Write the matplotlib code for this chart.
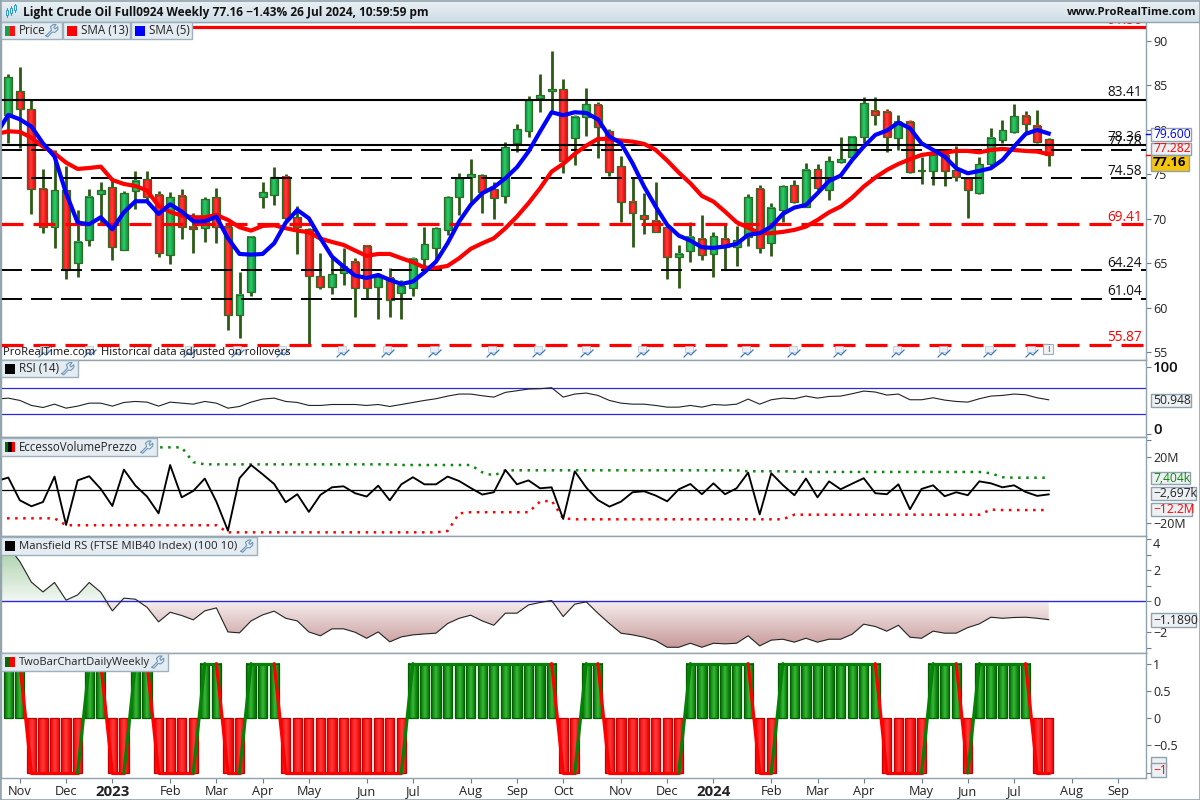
import numpy as np
import matplotlib
matplotlib.use("Agg")
import matplotlib.pyplot as plt
from matplotlib.colors import LinearSegmentedColormap as LSC
from matplotlib.patches import Rectangle

plt.rcParams['font.family'] = ['Open Sans', 'DejaVu Sans']
plt.rcParams['lines.scale_dashes'] = False
plt.rcParams['axes.unicode_minus'] = True

# ---------- data (weekly bars, oldest first) ----------
highs = [86.29,87.05,83.37,75.58,77.76,75.99,71.01,73.34,74.20,74.57,73.15,75.36,75.36,73.19,73.00,73.34,70.64,72.44,73.45,69.52,64.01,68.10,74.12,75.81,75.06,71.47,68.96,66.15,65.77,66.71,65.59,67.01,63.90,64.46,63.15,
         65.70,69.07,69.14,72.59,75.14,76.71,75.06,74.20,78.62,80.64,83.83,86.30,88.88,85.70,81.69,84.69,83.11,80.08,77.05,74.57,72.96,74.13,69.14,67.05,69.63,70.42,68.51,69.33,69.26,72.81,73.83,71.77,73.83,74.39,
         76.26,76.18,77.08,79.25,79.33,83.67,83.67,82.36,81.65,81.09,76.93,77.76,77.38,78.24,74.76,76.97,80.19,81.09,82.88,82.10,82.25,79.07]
body_top = [85.92,84.35,82.33,73.41,73.23,73.23,67.46,72.51,73.23,73.56,72.89,74.31,74.46,72.74,72.44,72.63,69.14,72.21,72.44,69.07,61.50,67.95,73.00,74.76,74.76,70.19,68.84,63.56,63.78,64.65,65.21,67.01,63.53,63.41,62.48,
            65.55,67.16,68.96,72.44,74.57,75.02,74.91,73.34,78.06,80.08,83.38,83.90,84.57,84.57,81.43,82.89,82.78,79.85,75.92,71.95,70.42,69.82,69.14,66.04,68.02,67.80,68.06,67.80,67.65,72.44,73.34,71.28,73.68,73.79,
            75.47,75.58,76.48,76.71,79.22,82.99,82.10,81.99,80.94,80.86,75.47,77.19,77.19,75.47,74.57,76.14,79.07,79.96,81.54,81.54,80.49,78.95]
body_bot = [81.73,82.33,73.41,69.14,69.14,64.27,65.02,67.61,72.85,66.82,66.52,73.11,72.51,66.15,65.96,69.07,68.84,68.96,69.14,59.18,59.18,61.77,72.44,72.74,70.08,69.07,63.56,62.33,62.33,63.90,62.21,62.21,62.33,60.91,61.65,
            62.22,65.55,66.78,68.77,72.52,74.69,73.08,72.33,72.63,78.58,79.93,83.64,84.35,76.56,79.07,81.50,80.30,75.32,71.95,70.64,70.04,68.58,65.77,65.70,66.37,65.92,66.04,66.90,66.90,68.02,66.71,67.27,71.02,71.95,
            71.31,73.45,73.23,76.44,76.93,79.18,81.65,79.18,79.07,75.24,75.36,75.36,75.36,74.76,73.23,72.96,76.14,78.84,79.81,80.64,78.62,77.16]
lows = [78.58,78.02,70.60,68.47,66.79,63.30,63.45,67.01,69.52,65.43,66.52,71.17,72.14,65.77,64.99,67.79,66.22,67.46,67.27,57.57,56.67,61.39,71.28,71.62,69.89,66.11,55.81,62.18,61.62,62.63,59.03,61.09,58.81,59.03,58.81,
        61.39,64.28,65.40,68.21,70.46,71.77,70.72,70.04,71.84,77.57,79.26,82.06,82.06,75.21,76.11,79.33,76.90,74.87,69.71,66.90,68.36,68.51,63.30,62.29,65.21,65.40,63.53,64.35,64.73,67.01,66.22,65.89,69.71,71.77,
        71.31,73.26,72.14,76.33,76.63,78.58,80.56,77.57,77.76,75.13,73.97,73.86,73.75,74.31,70.15,72.85,75.88,78.58,79.70,79.63,78.50,75.99]
candle_up = list("GRRRGRGGGRGGRRGRRGRRGGGGRRRRGGRRGRG"
                 "GGGGGGRRGGGGGRGGRRRRRRRGGRGRGGRGGR"
                 "GRGGGGRRGRGGRRRGGGGRRR")

sma5 = [79.63,81.69,81.20,80.38,78.50,77.01,72.89,69.59,69.41,70.19,68.84,70.75,71.99,71.99,70.56,71.65,70.83,69.74,69.74,70.26,67.83,66.07,65.99,66.07,67.27,69.59,71.01,70.08,67.83,65.77,64.65,63.64,63.37,63.71,63.15,62.70,
        62.97,64.01,65.21,67.27,69.71,71.58,72.89,73.56,74.57,75.81,77.57,79.82,81.99,81.65,81.99,81.91,81.20,79.26,78.51,76.26,73.64,71.39,69.33,68.13,67.57,66.82,66.75,66.90,67.20,68.21,68.40,69.14,70.57,71.28,
        71.57,72.89,74.27,74.87,76.63,78.13,79.44,79.93,80.83,80.19,78.50,77.76,77.01,75.70,75.13,75.40,75.70,76.63,78.13,79.55,80.00,79.60]
sma13 = [79.55,79.85,79.78,79.14,78.13,77.38,76.33,75.62,75.73,75.88,74.38,73.93,73.71,73.19,71.47,70.79,70.38,70.19,70.19,70.45,69.89,69.07,68.69,69.22,69.29,68.96,68.69,68.51,67.79,67.42,67.08,66.45,65.85,66.07,66.07,65.59,
         65.14,64.54,64.50,64.73,65.59,66.64,67.27,67.83,68.96,70.27,71.77,73.45,75.32,76.19,77.31,78.24,78.99,78.99,78.81,78.69,78.43,77.76,76.56,75.21,74.01,72.59,71.95,70.83,69.63,69.03,68.40,68.40,68.55,68.77,
         69.14,69.89,70.75,71.39,72.40,73.64,74.65,75.51,76.18,76.71,77.19,77.38,77.45,77.64,77.64,77.49,77.75,77.87,77.75,77.64,77.57,77.28]

solid_levels = [83.41, 78.36]
black_dash_levels = [77.78, 74.58, 64.24, 61.04]
red_dash_levels = [69.41, 55.87]
red_solid_level = 91.56

rsi = [52.0,53.4,50.0,42.6,39.6,44.5,38.6,41.6,46.0,46.0,41.6,47.0,48.5,47.5,41.6,47.5,46.0,44.5,48.5,46.0,38.6,41.1,47.5,52.0,53.4,48.5,47.0,42.6,42.6,44.0,44.0,44.0,42.6,44.0,41.1,44.0,
       47.0,50.0,52.5,56.4,59.4,59.4,56.9,54.9,61.9,64.3,66.8,67.3,68.8,54.9,59.4,60.9,57.4,
       50.0,46.0,44.5,44.5,42.6,40.1,40.1,42.6,40.1,44.0,43.0,44.5,52.0,44.5,51.0,53.4,52.5,56.4,53.4,55.9,56.4,59.9,63.8,62.4,57.9,59.4,51.0,51.0,53.9,50.5,48.5,47.5,52.5,56.4,57.4,59.4,58.4,53.9,50.948]
rsi_bands = [68.5, 29.7]

evp = [5.4,7.5,-6.3,-9.9,-7.3,8.1,-21.2,5.8,8.3,0.6,-9.7,12.3,2.6,-4.0,-14.2,15.1,-4.5,-0.6,6.9,-7.1,-24.7,7.1,15.1,9.5,3.6,-7.5,-2.6,-13.3,-3.0,1.6,2.2,-2.0,-4.0,2.6,-6.3,3.4,
       7.7,3.4,3.4,8.1,5.4,1.2,-2.8,-1.4,12.1,3.4,5.8,1.0,1.6,-17.6,11.3,1.4,-6.1,
       -10.1,-7.1,-1.4,-0.8,-3.4,-6.9,0.4,3.6,-2.6,4.0,-2.6,1.0,10.5,-14.8,10.1,3.0,-3.2,6.9,-4.5,5.2,0.4,3.8,7.1,-2.0,-2.6,3.4,-11.7,0.6,2.8,-3.8,-1.4,-3.2,5.2,4.0,1.6,2.8,-1.2,-3.6,-2.697]
evp_upper = [25.8]*17 + [16.8] + [15.5]*17 + [15.1]*7 + [10.7,8.7] + [11.9]*21 + [11.3]*4 + [11.1] + [10.9]*16 + [10.1,7.7,7.404,7.404,7.404,7.404]
evp_lower = [-17.2]*6 + [-21.4]*14 + [-25.7]*19 + [-24.9,-14.2] + [-13.5]*6 + [-7.1,-6.5,-17.2] + [-17.8]*19 + [-15.0]*17 + [-11.9] + [-12.2]*5

mansfield = [3.53,3.53,2.56,1.23,0.60,1.21,0.07,0.41,1.21,0.58,-0.62,0.20,0.13,-0.39,-1.33,-0.71,-0.92,-1.20,-0.62,-0.43,-1.98,-2.04,-1.27,-0.88,-0.64,-1.10,-1.27,-1.98,-2.23,-1.78,-1.78,-2.00,-2.39,-1.98,-2.62,-2.30,
             -2.17,-2.11,-2.06,-1.44,-1.10,-0.90,-1.27,-1.55,-0.77,-0.77,-0.24,-0.08,0.05,-0.99,-0.19,-0.04,-0.77,
             -1.44,-2.06,-2.17,-2.32,-2.54,-2.97,-2.97,-2.71,-2.97,-2.71,-2.75,-2.71,-2.23,-2.88,-2.51,-2.45,-2.64,-2.39,-2.64,-2.45,-2.45,-2.13,-1.48,-1.63,-1.93,-1.55,-2.32,-2.39,-1.93,-2.06,-2.06,-1.70,-1.46,-1.03,-1.10,-1.05,-1.03,-1.10,-1.189]

twobar = [1,1,-1,-1,-1,-1,-1,1,1,-1,-1,1,1,-1,-1,-1,-1,1,1,-1,-1,1,1,1,
          -1,-1,-1,-1,-1,-1,-1,-1,-1,-1,-1,
          1,1,1,1,1,1,1,1,1,1,1,1,1,-1,-1,1,1,
          -1,-1,-1,-1,-1,-1,-1,1,1,1,1,1,1,-1,-1,
          1,1,1,1,1,1,1,1,1,-1,-1,-1,-1,1,1,1,-1,1,1,1,1,1,-1,-1]

tick_pos = [1,5,9,14,18,22,26,31,35,40,44,48,53,57,61,66,70,74,79,83,87,92,96]
tick_text = ['Nov','Dec','2023','Feb','Mar','Apr','May','Jun','Jul','Aug','Sep','Oct',
             'Nov','Dec','2024','Feb','Mar','Apr','May','Jun','Jul','Aug','Sep']

n = len(highs)
idx = np.arange(n)
idx_pre = np.arange(-1, n)

# ---------- layout ----------
W, H = 1200, 800
LEFT, RIGHT = 1, 1146
fig = plt.figure(figsize=(12, 8), dpi=100, facecolor='white')
GRAY = '#93a3ad'
XLIM = ((LEFT - 8.3) / 11.56, (RIGHT - 8.3) / 11.56)

def panel(y0, y1, ylim):
    ax = fig.add_axes([LEFT / W, 1 - y1 / H, (RIGHT - LEFT) / W, (y1 - y0) / H])
    ax.set_facecolor('white')
    ax.set_xlim(*XLIM)
    ax.set_ylim(*ylim)
    for s in ax.spines.values():
        s.set_color(GRAY)
        s.set_linewidth(1.0)
    ax.yaxis.tick_right()
    ax.tick_params(axis='y', colors='#222222', labelsize=9.0, length=3.5, width=0.8, color='#6f7f88', pad=1.5)
    ax.set_xticks([])
    return ax

ax_p = panel(22, 359.5, (54.21, 92.13))
ax_r = panel(359.5, 437.3, (-4.4, 110.4))
ax_e = panel(437.3, 536.3, (-28.1, 31.9))
ax_m = panel(536.3, 652.7, (-3.32, 4.19))
ax_t = panel(652.7, 777.7, (-1.09, 1.2))

def hgrad(ax, x0, x1, y0, y1, cmap, z):
    g = np.array([[0, 0.5, 1, 0.5, 0]])
    ax.imshow(g, extent=[x0, x1, y0, y1], aspect='auto', cmap=cmap, vmin=0, vmax=1,
              interpolation='bilinear', zorder=z)

CM_G = LSC.from_list('g', ['#149a48', '#2ccc66'])
CM_R = LSC.from_list('r', ['#ee1010', '#ff3b3b'])
CM_TG = LSC.from_list('tg', ['#067a06', '#38b838'])
CM_TR = LSC.from_list('tr', ['#f40808', '#ff3c3c'])
WICK = '#2b5a14'

# ---------- price panel ----------
ax_p.vlines(idx, lows, highs, color=WICK, lw=2.0, zorder=2)
for i in idx:
    top, bot = body_top[i], body_bot[i]
    hgrad(ax_p, i - 0.34, i + 0.34, bot, top, CM_G if candle_up[i] == 'G' else CM_R, 3)
    ax_p.add_patch(Rectangle((i - 0.34, bot), 0.68, top - bot, fill=False, ec='#2f6b22', lw=0.9, zorder=4))
ax_p.set_xlim(*XLIM)
ax_p.set_ylim(54.21, 92.13)

for lv in solid_levels:
    ax_p.axhline(lv, color='black', lw=1.5, zorder=5)
for lv in black_dash_levels:
    ax_p.axhline(lv, color='black', lw=1.4, ls=(0, (15.12, 6.48)), dash_capstyle='butt', zorder=5)
for lv in red_dash_levels:
    ax_p.axhline(lv, color='#ff0000', lw=2.3, ls=(0, (15.84, 7.2)), dash_capstyle='butt', zorder=5)
ax_p.axhline(red_solid_level, color='#ff0000', lw=2.3, zorder=5)

ax_p.plot(idx_pre, sma13, color='#ff0000', lw=3.0, zorder=6, solid_joinstyle='round')
ax_p.plot(idx_pre, sma5, color='#0000ff', lw=3.0, zorder=7, solid_joinstyle='round')

label_x = XLIM[1] - 0.35
for val, col in [(83.41, '#111111'), (78.36, '#111111'), (77.78, '#111111'), (74.58, '#111111'),
                 (69.41, '#ff0000'), (64.24, '#111111'), (61.04, '#111111'), (55.87, '#ff0000'), (91.56, '#ff0000')]:
    ax_p.text(label_x, val + 0.37, f'{val:.2f}', ha='right', va='baseline', color=col, fontsize=9.8,
              zorder=8, clip_on=True)
ax_p.set_yticks([55, 60, 65, 70, 75, 80, 85, 90])

# ---------- RSI ----------
for b in rsi_bands:
    ax_r.axhline(b, color='#2a2ad8', lw=0.9, zorder=1)
ax_r.plot(idx_pre, rsi, color='#222222', lw=0.8, zorder=2)
ax_r.set_yticks([0, 100])
ax_r.set_yticklabels(['', ''])

# ---------- EccessoVolumePrezzo ----------
ax_e.plot(idx_pre, evp_upper, color='#0a8a0a', lw=1.8, ls=(0, (1.8, 4.0)), dash_capstyle='butt', zorder=2)
ax_e.plot(idx_pre, evp_lower, color='#ff0000', lw=1.8, ls=(0, (1.8, 4.0)), dash_capstyle='butt', zorder=2)
ax_e.plot([XLIM[0], n - 1], [0, 0], color='black', lw=0.9, zorder=2)
ax_e.plot(idx_pre, evp, color='black', lw=1.35, zorder=3)
ax_e.set_yticks([-20, 20, 30])
ax_e.set_yticklabels(['\u221220M', '20M', ''])

# ---------- Mansfield ----------
mx = idx_pre
mv = np.array(mansfield)
for arr, colors, (g0, g1) in [(np.maximum(mv, 0), ['#f2f7f2', '#a6cfa6'], (0, 3.6)),
                              (np.minimum(mv, 0), ['#f6eded', '#c69797'], (0, -3.05))]:
    poly = ax_m.fill_between(mx, 0, arr, color='none', lw=0)
    grad = np.linspace(1, 0, 64).reshape(-1, 1)
    cm = LSC.from_list('m', colors)
    im = ax_m.imshow(grad, extent=[mx[0], mx[-1], min(g0, g1), max(g0, g1)], aspect='auto', cmap=cm,
                     origin='upper' if g1 > 0 else 'lower', zorder=1, interpolation='bilinear')
    im.set_clip_path(poly.get_paths()[0], transform=ax_m.transData)
ax_m.set_xlim(*XLIM)
ax_m.set_ylim(-3.32, 4.19)
ax_m.axhline(0, color='#2a2ad8', lw=1.0, zorder=2)
ax_m.plot(mx, mv, color='#222222', lw=0.8, zorder=3)
ax_m.set_yticks([-3, -2, 0, 1, 2, 3, 4])
ax_m.set_yticklabels(['', '\u22122', '0', '', '2', '', ''])

# ---------- TwoBar ----------
for i, v in zip(idx, twobar):
    cm = CM_TG if v > 0 else CM_TR
    hgrad(ax_t, i - 0.4, i + 0.4, min(0, v), max(0, v), cm, 1)
    ax_t.add_patch(Rectangle((i - 0.4, min(0, v)), 0.8, 1, fill=False,
                             ec='#055c05' if v > 0 else '#c40000', lw=0.9, zorder=2))
ax_t.set_xlim(*XLIM)
ax_t.set_ylim(-1.09, 1.2)
for i in range(n - 1):
    ax_t.plot([i, i + 1], [twobar[i], twobar[i + 1]], color='#078007' if twobar[i + 1] > 0 else '#ff0000',
              lw=2.3, zorder=3, solid_capstyle='round')
ax_t.set_yticks([-1, -0.5, 0, 0.5, 1])
ax_t.set_yticklabels(['', '\u22120.5', '0', '0.5', '1'])
ax_t.set_xticks(tick_pos)
ax_t.set_xticklabels(tick_text, fontsize=9.2, color='#222222')
ax_t.tick_params(axis='x', length=3.5, width=0.8, color='#6f7f88', pad=1.5)
for lbl in ax_t.get_xticklabels():
    if lbl.get_text() in ('2023', '2024'):
        lbl.set_fontweight('bold')
        lbl.set_fontsize(10.8)

# ---------- chrome overlay, in pixel coordinates ----------
ov = fig.add_axes([0, 0, 1, 1], zorder=20)
ov.set_xlim(0, W)
ov.set_ylim(H, 0)
ov.axis('off')

head = ov.imshow(np.linspace(0, 1, 22).reshape(-1, 1), extent=[0, W, 22, 0], aspect='auto',
                 cmap=LSC.from_list('h', ['#eaf1f5', '#cfdee6']), zorder=1)
ov.set_xlim(0, W)
ov.set_ylim(H, 0)
ov.plot([0, W], [21.5, 21.5], color=GRAY, lw=1, zorder=2)
ov.plot([0, W, W, 0, 0], [0.5, 0.5, 799.5, 799.5, 0.5], color=GRAY, lw=1.2, zorder=2)
ov.plot([0.5, 0.5], [0, 800], color=GRAY, lw=1.2, zorder=2)
for xc, y0, y1, yt, yb, c in [(7, 8, 17, 10, 15, '#2a9bd0'), (11, 6, 15, 8, 13, '#2a9bd0'), (15, 4, 12, 5, 10, '#2a9bd0')]:
    ov.plot([xc, xc], [y0, y1], color=c, lw=0.7, zorder=3)
    ov.add_patch(Rectangle((xc - 1.3, yt), 2.6, yb - yt, fc='white', ec=c, lw=0.7, zorder=4))
ov.text(23, 12.2, 'Light Crude Oil Full0924 Weekly 77.16 \u22121.43% 26 Jul 2024, 10:59:59 pm',
        fontsize=8.6, fontweight='bold', va='center', ha='left', color='#111111', zorder=5)
ov.text(1196, 12.2, 'www.ProRealTime.com', fontsize=8.1, fontweight='bold', va='center', ha='right',
        color='#111111', zorder=5)

WR = np.array([[0, 10], [5, 5], [4, 2], [6.5, 0], [9, 0], [7, 2.5], [8, 4], [10.5, 2], [10.5, 4.5], [8, 7], [5.5, 6.8], [1.5, 11], [0, 10]], float) * 1.12

def wrench(x, y):
    ov.plot(x + WR[:, 0], y + WR[:, 1], color='#6d97b8', lw=0.8, zorder=8)

def legend_box(x0, x1, y0, y1, text, swatch, fs=8.35, wr=True):
    ov.add_patch(Rectangle((x0, y0), x1 - x0, y1 - y0, fc='#e4ecf2', ec='#9db0bc', lw=1, zorder=6))
    step = 10 / len(swatch)
    for k, c in enumerate(swatch):
        ov.add_patch(Rectangle((x0 + 4 + k * step, (y0 + y1) / 2 - 5), step, 10, fc=c, ec='none', zorder=7))
    ov.text(x0 + 18, (y0 + y1) / 2 + 0.2, text, fontsize=fs, va='center', ha='left', color='#222222', zorder=7)
    if wr:
        wrench(x1 - 16, (y0 + y1) / 2 - 6)

legend_box(1, 62, 22, 39, 'Price', ['#1aa04a', '#ff1010'])
legend_box(63, 130, 22, 39, 'SMA (13)', ['#ff0000'], wr=False)
legend_box(131, 192, 22, 39, 'SMA (5)', ['#0000ff'], wr=False)
legend_box(1, 78, 360, 377, 'RSI (14)', ['#000000'])
legend_box(1, 157, 438, 456, 'EccessoVolumePrezzo', ['#076b07', '#000000', '#ff0000'], fs=8.3)
legend_box(1, 257, 537, 555, 'Mansfield RS (FTSE MIB40 Index) (100 10)', ['#000000'], fs=8.2)
legend_box(1, 168, 653, 671, 'TwoBarChartDailyWeekly', ['#076b07', '#ff0000'], fs=8.0)

def tag(x0, x1, y0, y1, text, col, fc='#eef1f3', bold=False, fs=8.7):
    ov.add_patch(Rectangle((x0, y0), x1 - x0, y1 - y0, fc=fc, ec='#8ea1ad', lw=1.0, zorder=6))
    ov.text(x0 + 2, (y0 + y1) / 2, text, color=col, fontsize=fs, va='center', ha='left',
            fontweight='bold' if bold else 'normal', zorder=7)

ov.plot([1146, 1151], [133.5, 133.5], color='#0000ff', lw=1, zorder=5)
ov.plot([1146, 1151], [154.5, 154.5], color='#ff0000', lw=1, zorder=5)
tag(1151, 1191, 128, 141, '79.600', '#0000ff', fc='white')
tag(1151, 1191, 143, 155, '77.282', '#ff0000')
tag(1151, 1189, 155, 171, '77.16', '#000000', fc='#f4c40f', bold=True, fs=9.4)
tag(1151, 1191, 394, 407, '50.948', '#222222')
tag(1151, 1190, 472, 484, '7,404k', '#0a8a0a')
tag(1151, 1196, 487, 500, '\u22122,697k', '#222222')
tag(1151, 1192, 503, 516, '\u221212.2M', '#ff0000')
tag(1151, 1196, 613, 627, '\u22121.1890', '#222222')
ov.add_patch(Rectangle((1151, 757), 15, 10, fc='#eef1f3', ec='#8ea1ad', lw=1.0, zorder=6))
tag(1151, 1166, 763, 777, '\u22121', '#ff0000')

ov.text(1153, 367.7, '100', fontsize=10.8, fontweight='semibold', va='center', ha='left', color='#111111', zorder=7)
ov.text(1153, 429.7, '0', fontsize=10.8, fontweight='semibold', va='center', ha='left', color='#111111', zorder=7)
ov.text(1153, 544, '4', fontsize=9.0, va='center', ha='left', color='#222222', zorder=7)

# small calendar / chart markers along the price-panel floor
for xc in [45, 90, 190, 238, 283, 343, 388, 435, 493, 539, 587, 643, 690, 747, 794, 840, 898, 944, 990, 1032]:
    ov.add_patch(Rectangle((xc - 5, 346), 8, 6, fc='#e9eef4', ec='#b4c0cc', lw=0.5, zorder=3))
    ov.plot([xc - 6, xc - 2, xc + 1, xc + 6], [357, 353, 355, 350], color='#3d78c8', lw=0.9, zorder=3)
ov.add_patch(Rectangle((1043, 344), 10, 10, fc='#f0f2f4', ec='#9db0bc', lw=0.8, zorder=3))
ov.text(1048, 349.3, 'i', fontsize=7, va='center', ha='center', color='#555555', zorder=4)
ov.text(3, 352.8, 'ProRealTime.com  Historical data adjusted on rollovers', fontsize=8.15,
        color='#111111', va='center', ha='left', zorder=9)

fig.savefig('out.png', dpi=100, facecolor='white')
